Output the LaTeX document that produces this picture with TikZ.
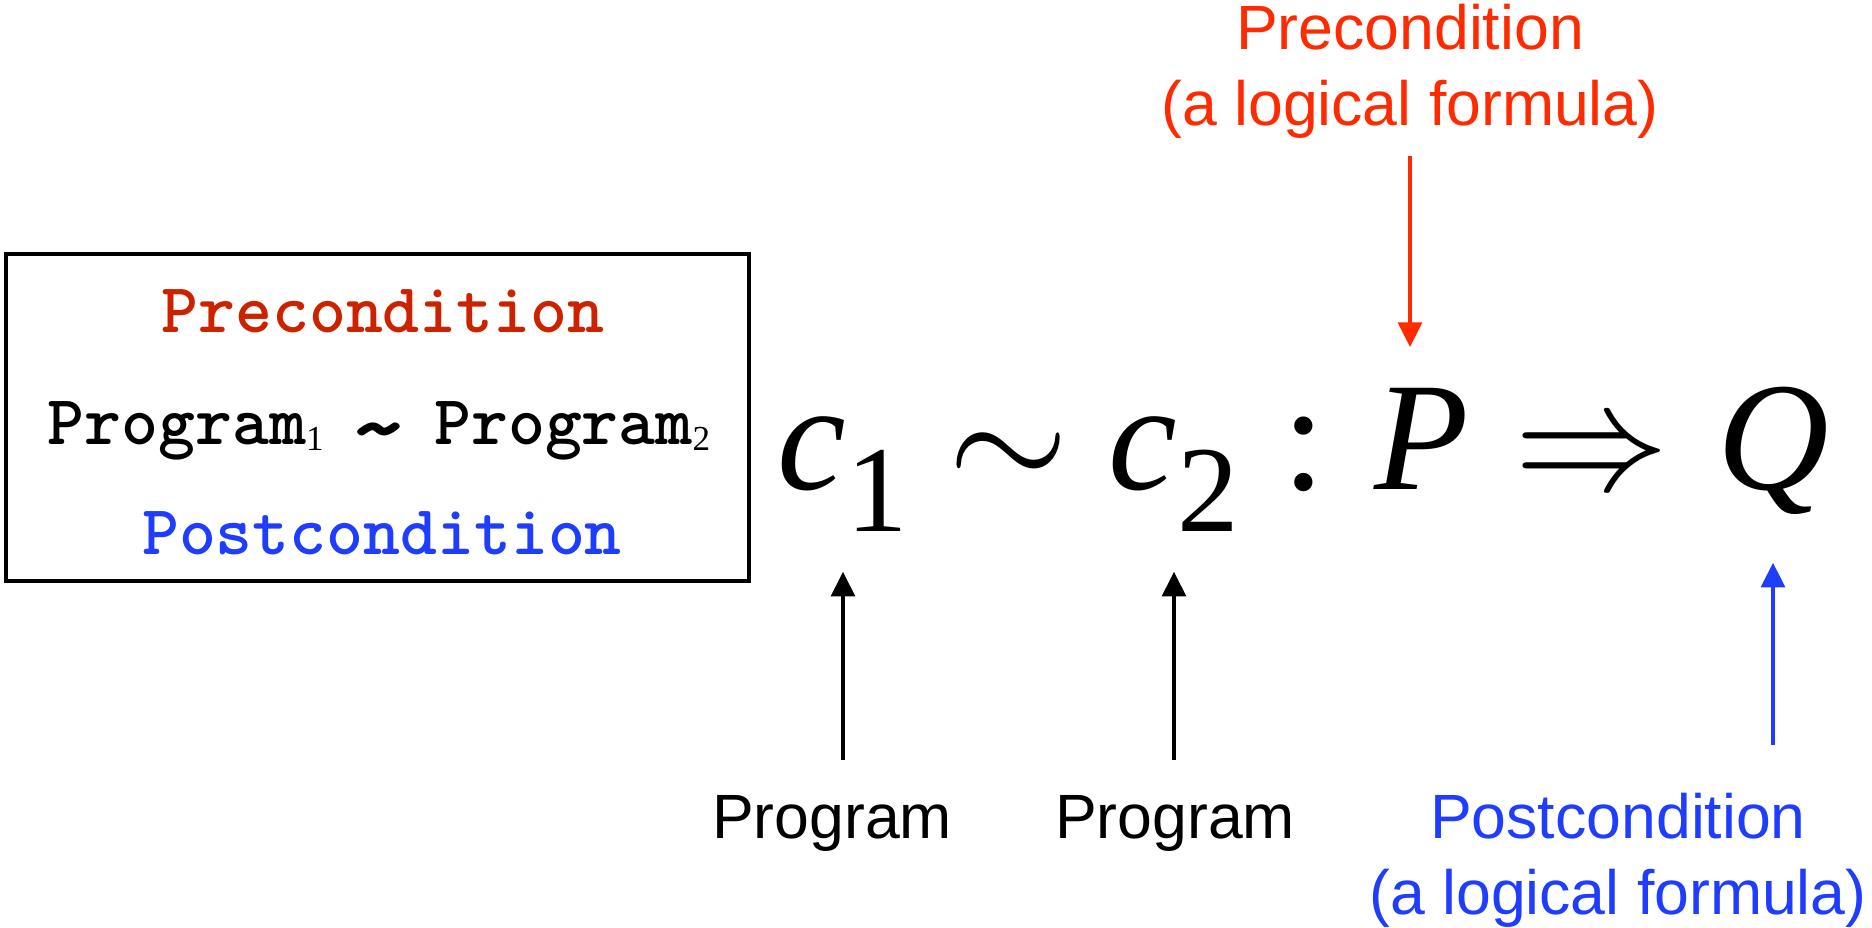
\documentclass[tikz,border=0pt]{standalone}
\usepackage{fontspec}
\setmainfont{Liberation Serif}
\setsansfont{Liberation Sans}
\usepackage{graphicx}
\usepackage{tikz}
\usetikzlibrary{arrows.meta, positioning, calc}
\definecolor{relred}{HTML}{FF2A00}
\definecolor{relbrick}{HTML}{CC2200}
\definecolor{relblue}{HTML}{1F3DFF}
\definecolor{reldark}{HTML}{000000}
\tikzset{
  specbox/.style={rectangle, draw=reldark, line width=1.15pt, minimum width=7.43cm,
    minimum height=3.27cm, inner sep=0pt},
  boxtxt/.style={font=\ttfamily\bfseries\fontsize{20}{22}\selectfont, inner sep=0pt, anchor=base},
  sym/.style={font=\fontsize{44}{48}\selectfont, inner sep=0pt, anchor=base},
  lbl/.style={font=\sffamily\fontsize{17.8}{21.6}\selectfont, align=center, inner sep=0pt},
  arr/.style={-{Triangle[length=7pt, width=6.8pt]}, line width=0.9pt},
}
\newcommand{\boxsub}[1]{\raisebox{-1.7pt}{\rmfamily\mdseries\fontsize{10}{10}\selectfont #1}}
\newcommand{\boxsim}{\makebox[0.525em]{\raisebox{-0.2em}{\scalebox{1.7}[1.4]{\textasciitilde}}}}
\newcommand{\symsub}[1]{\raisebox{-11.7pt}{\fontsize{35}{35}\selectfont #1}}
\newcommand{\bigmath}[1]{\scalebox{4.4}{\normalsize$#1$}}

\begin{document}
\begin{tikzpicture}
  \useasboundingbox (0,0) rectangle (18.72,9.28);
  % the box on the left
  \node[specbox] (spec) at (3.775,5.105) {};
  \node[boxtxt, text=relbrick] (bpre) at (3.83,5.95) {Precondition};
  \node[boxtxt] (bprog) at (3.79,4.83) {Program\boxsub{1} \boxsim{} Program\boxsub{2}};
  \node[boxtxt, text=relblue] (bpost) at (3.82,3.73) {Postcondition};

  % the relation
  \node[sym] (c1) at (8.43,4.38) {\textit{c}\symsub{1}};
  \node[sym] (sim) at (10.09,4.38) {\bigmath{\sim}};
  \node[sym] (c2) at (11.74,4.38) {\textit{c}\symsub{2}};
  \node[sym] (colon) at (13.04,4.38) {:};
  \node[sym] (pre) at (14.22,4.38) {\textit{P}};
  \node[sym] (imp) at (15.92,4.38) {\bigmath{\Rightarrow}};
  \node[sym] (post) at (17.73,4.38) {\textit{Q}};

  % labels and arrows
  \node[lbl, text=relred] (prelbl) at (14.10,8.57) {Precondition\\(a logical formula)};
  \node[lbl, anchor=base] (prog1) at (8.32,0.89) {Program};
  \node[lbl, anchor=base] (prog2) at (11.75,0.89) {Program};
  \node[lbl, text=relblue] (postlbl) at (16.18,0.68) {Postcondition\\(a logical formula)};

  \draw[arr, relred, shorten <=0.17cm, shorten >=0.41cm] (prelbl.south) -- (prelbl.south |- pre.north);
  \draw[arr, shorten <=0.35cm, shorten >=0.40cm] (c1 |- prog1.north) -- (c1.south);
  \draw[arr, shorten <=0.35cm, shorten >=0.40cm] (c2 |- prog2.north) -- (c2.south);
  \draw[arr, relblue, shorten <=0.47cm, shorten >=0.47cm] (post |- postlbl.north) -- (post.south);
\end{tikzpicture}
\end{document}
